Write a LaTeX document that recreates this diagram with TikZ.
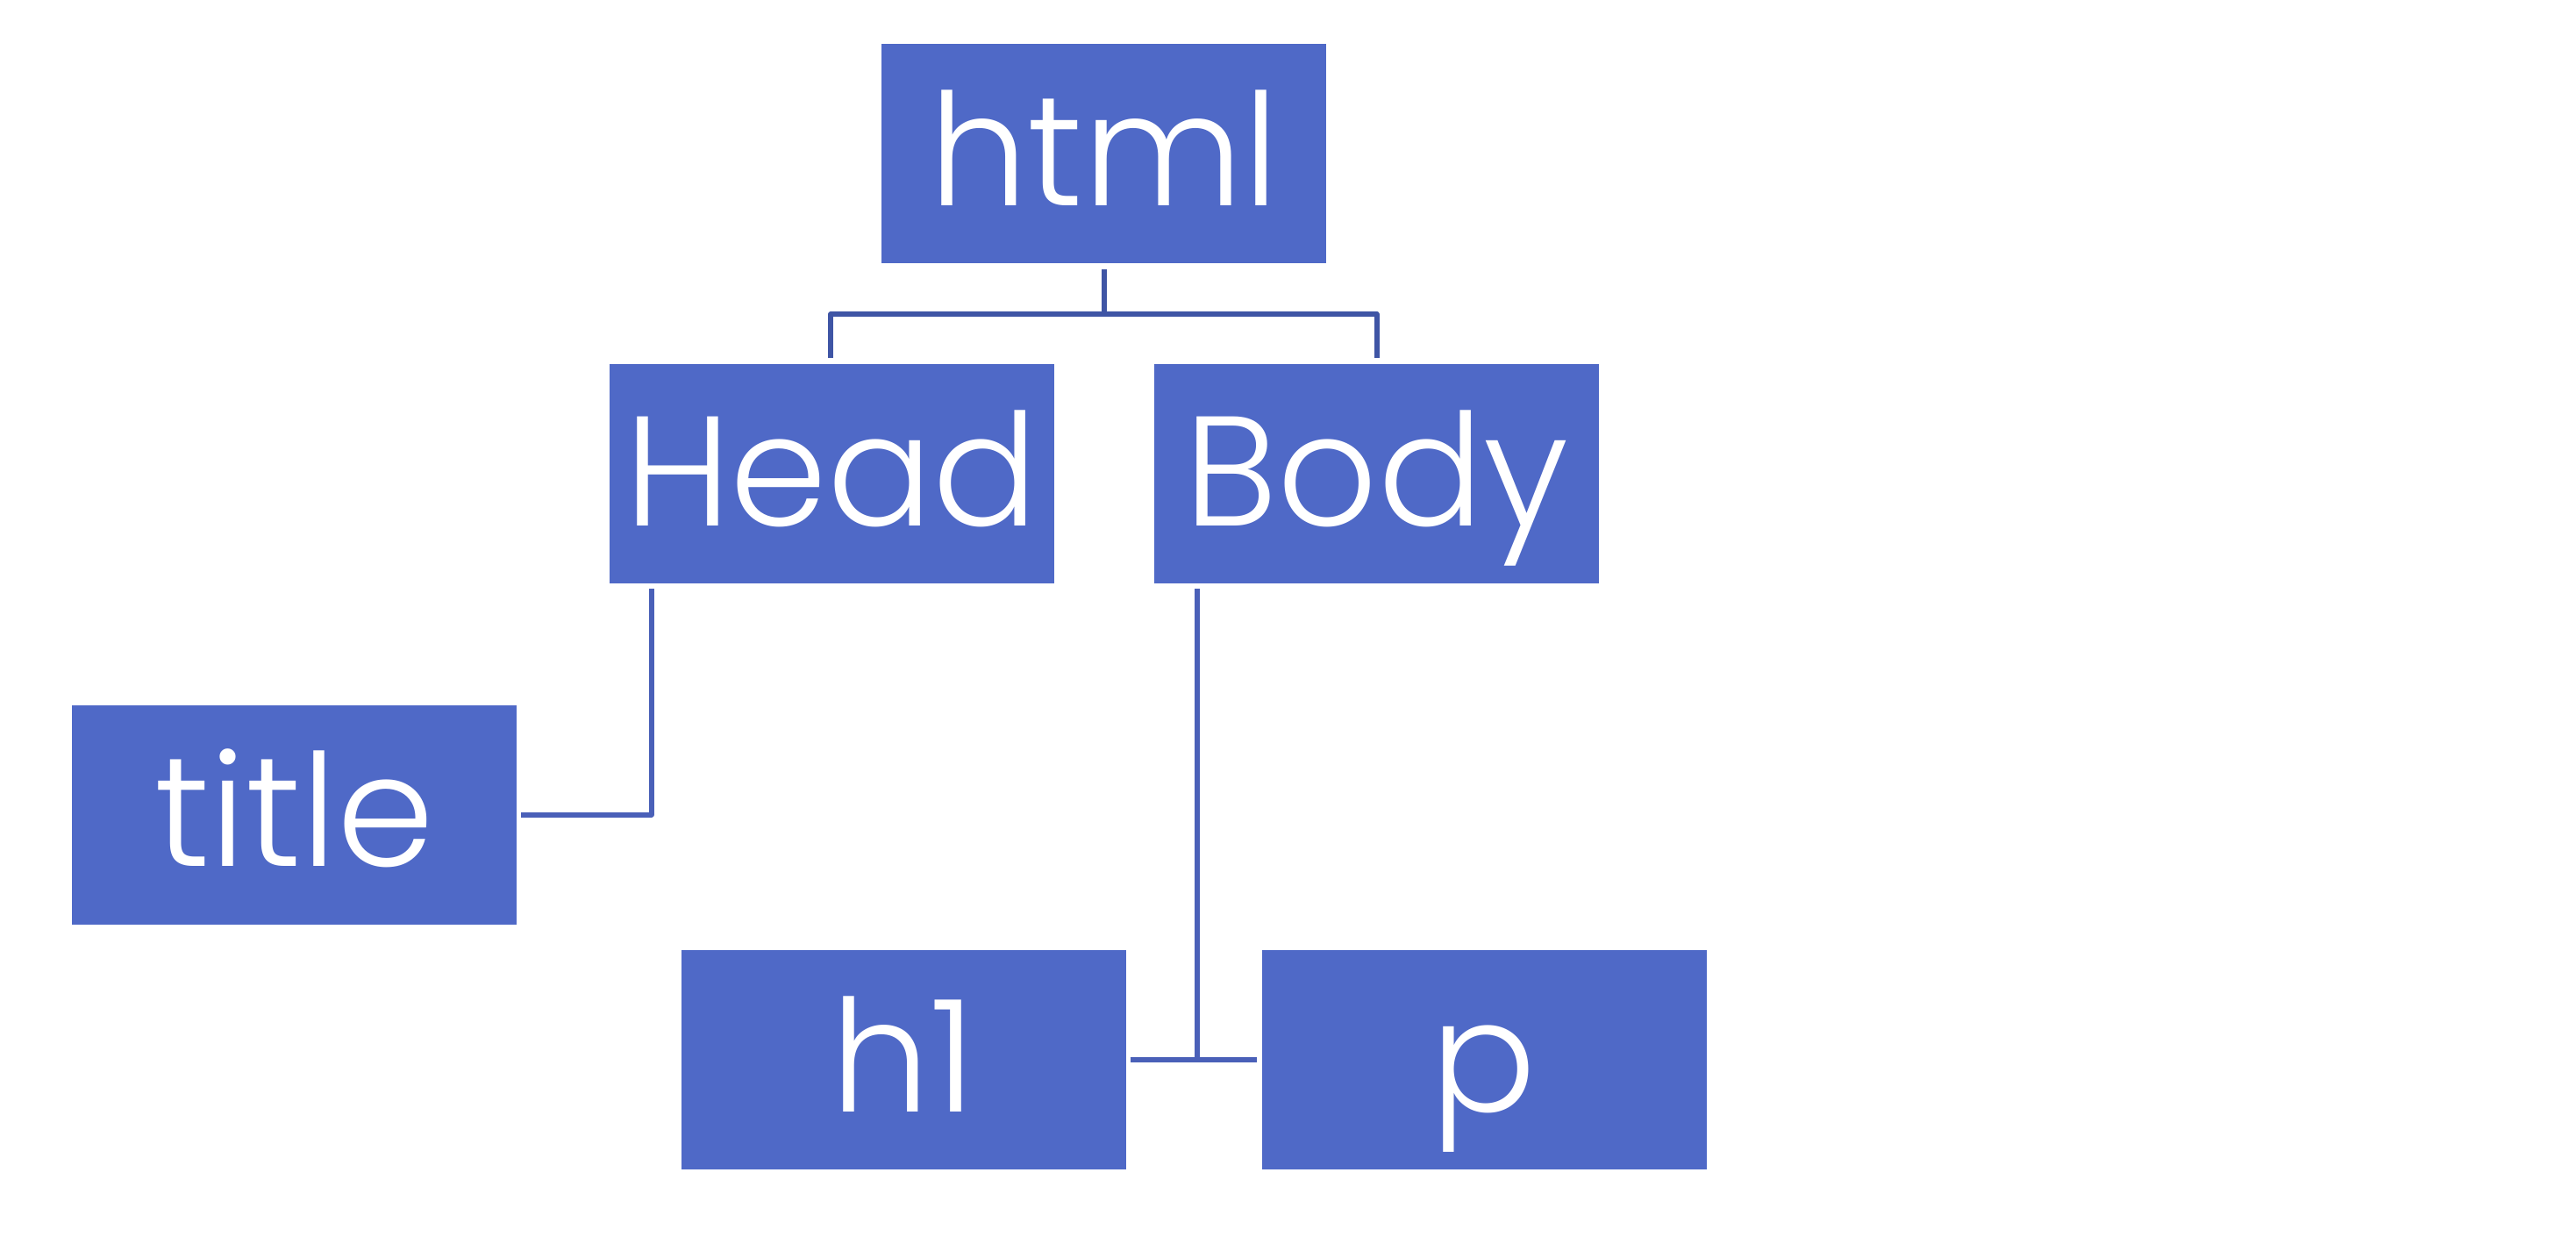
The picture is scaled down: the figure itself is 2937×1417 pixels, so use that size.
\documentclass[tikz,border=0pt]{standalone}
\usepackage{fontspec}
\setmainfont{Poppins}[UprightFont=* Light]
\definecolor{boxblue}{HTML}{4F69C7}
\definecolor{treeline}{HTML}{3F55A5}
\definecolor{linkline}{HTML}{4A60B8}
\begin{document}
\begin{tikzpicture}[x=1pt,y=-1pt,
  tag/.style={rectangle, fill=boxblue, draw=none, minimum width=507pt, minimum height=250pt,
    inner sep=0pt, text=white, font=\fontsize{178}{178}\selectfont, text height=118pt, text depth=0pt},
  tree/.style={draw=treeline, line width=6pt, line join=round},
  link/.style={draw=linkline, line width=6pt, line join=round}]
\useasboundingbox (0,0) rectangle (2937,1417);
\node[tag] (html) at (1258.5,175) {html};
\node[tag] (Head) at (948,540) {Head};
\node[tag] (Body) at (1569.5,540) {Body};
\node[tag] (title) at (335.5,928.5) {title};
\node[tag] (h1) at (1030,1208) {h1};
\node[tag] (p) at (1692,1208) {p};
% html -> Head, Body
\coordinate (hj) at ([yshift=-58pt]html.south);
\draw[tree] ([yshift=-7pt]html.south) -- (hj);
\draw[tree] ([xshift=-1pt,yshift=7pt]Head.north) |- (hj) -| ([yshift=7pt]Body.north);
% Head -> title
\coordinate (hs) at ([xshift=48.5pt,yshift=-6pt]Head.south west);
\draw[link] (hs) |- ([xshift=5pt]title.east);
% Body -> h1, p
\coordinate (bs) at ([xshift=49pt,yshift=-6pt]Body.south west);
\draw[link] (bs) -- (bs |- h1.east);
\draw[link] ([xshift=5pt]h1.east) -- ([xshift=-5pt]p.west);
\end{tikzpicture}
\end{document}
